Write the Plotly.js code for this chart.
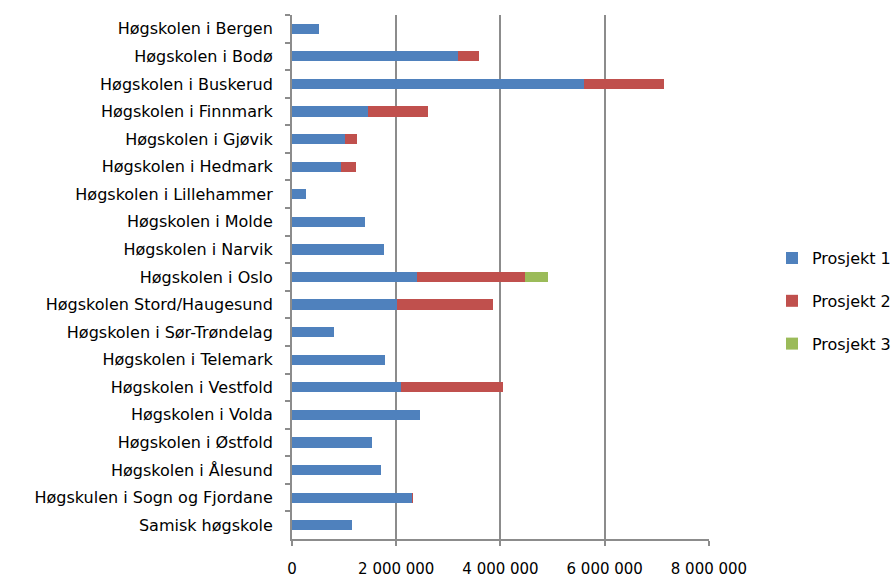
<!DOCTYPE html>
<html>
<head>
<meta charset="utf-8">
<script src="https://cdn.plot.ly/plotly-3.0.1.min.js"></script>
<style>html,body{margin:0;padding:0;background:#fff;}#chart{width:895px;height:579px;}</style>
</head>
<body>
<div id="chart"></div>
<script>
const categories = [
  "Høgskolen i Bergen",
  "Høgskolen i Bodø",
  "Høgskolen i Buskerud",
  "Høgskolen i Finnmark",
  "Høgskolen i Gjøvik",
  "Høgskolen i Hedmark",
  "Høgskolen i Lillehammer",
  "Høgskolen i Molde",
  "Høgskolen i Narvik",
  "Høgskolen i Oslo",
  "Høgskolen Stord/Haugesund",
  "Høgskolen i Sør-Trøndelag",
  "Høgskolen i Telemark",
  "Høgskolen i Vestfold",
  "Høgskolen i Volda",
  "Høgskolen i Østfold",
  "Høgskolen i Ålesund",
  "Høgskulen i Sogn og Fjordane",
  "Samisk høgskole"
];
const prosjekt1 = [510000, 3180000, 5600000, 1450000, 1020000, 940000, 270000, 1410000, 1770000, 2390000, 2010000, 800000, 1780000, 2090000, 2450000, 1540000, 1700000, 2300000, 1160000];
const prosjekt2 = [0, 410000, 1530000, 1150000, 230000, 280000, 0, 0, 0, 2080000, 1850000, 0, 0, 1960000, 0, 0, 0, 20000, 0];
const prosjekt3 = [0, 0, 0, 0, 0, 0, 0, 0, 0, 450000, 0, 0, 0, 0, 0, 0, 0, 0, 0];
const seriesNames = ["Prosjekt 1", "Prosjekt 2", "Prosjekt 3"];
const xTicks = [0, 2000000, 4000000, 6000000, 8000000];

const colors = ["#4F81BD", "#C0504D", "#9BBB59"];
const data = [prosjekt1, prosjekt2, prosjekt3].map((vals, i) => ({
  type: "bar",
  orientation: "h",
  name: seriesNames[i],
  y: categories,
  x: vals,
  marker: {color: colors[i], line: {width: 0}},
  legendgroup: "g" + i,
  hoverinfo: "x+name"
}));

const gridColor = "#8c8c8c";
const fnt = {family: "DejaVu Sans", size: 16, color: "#000"};
const layout = {
  width: 895, height: 579,
  margin: {l: 292, r: 0, t: 15, b: 40, pad: 0, autoexpand: false},
  paper_bgcolor: "#fff", plot_bgcolor: "#fff",
  barmode: "stack",
  bargap: 0.63,
  separators: ", ",
  font: fnt,
  xaxis: {
    domain: [0, 0.6915],
    range: [0, 8000000],
    tickvals: xTicks,
    tickformat: ",d",
    showgrid: true, gridcolor: gridColor, gridwidth: 2,
    zeroline: false,
    showline: true, linecolor: gridColor, linewidth: 2,
    ticks: "outside", ticklen: 5, tickcolor: gridColor, tickwidth: 2,
    ticklabelstandoff: 10,
    tickfont: {family: "DejaVu Sans", size: 15, color: "#000"},
    automargin: false,
    fixedrange: true
  },
  yaxis: {
    type: "category",
    autorange: "reversed",
    showgrid: false,
    showline: true, linecolor: gridColor, linewidth: 2,
    ticks: "outside", ticklen: 5, tickcolor: gridColor, tickwidth: 2,
    tickson: "boundaries",
    ticklabelstandoff: 14,
    tickfont: fnt,
    automargin: false,
    fixedrange: true
  },
  showlegend: true,
  legend: {
    x: 0.796, xanchor: "left",
    y: 0.454, yanchor: "middle",
    traceorder: "grouped",
    tracegroupgap: 19,
    font: fnt,
    itemwidth: 30,
    bgcolor: "rgba(0,0,0,0)"
  }
};

Plotly.newPlot("chart", data, layout, {displayModeBar: false, staticPlot: true});
</script>
</body>
</html>
